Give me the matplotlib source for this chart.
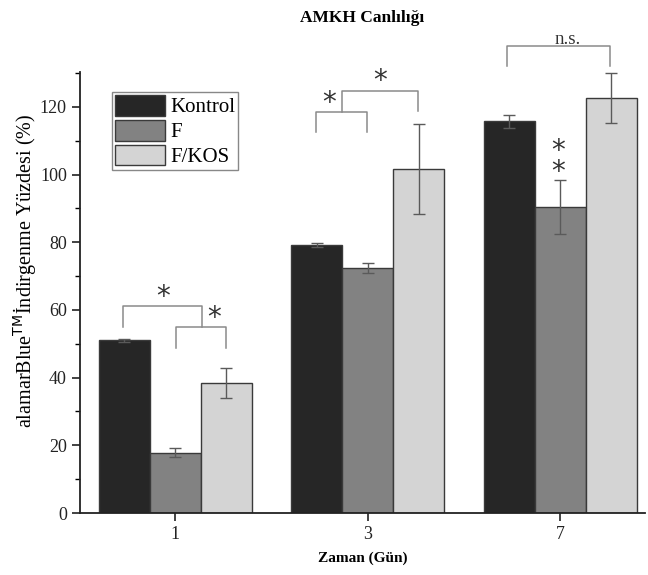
import matplotlib
matplotlib.use("Agg")
import matplotlib.pyplot as plt
import numpy as np
from matplotlib.ticker import MultipleLocator
from matplotlib.patches import Patch

days = ["1", "3", "7"]
groups = ["Kontrol", "F", "F/KOS"]
kontrol = [51.0, 79.2, 115.7]
kontrol_err = [0.5, 0.5, 2.0]
f_vals = [17.8, 72.3, 90.5]
f_err = [1.3, 1.5, 8.0]
fkos = [38.3, 101.7, 122.6]
fkos_err = [4.4, 13.3, 7.5]
colors = ["#262626", "#828282", "#d4d4d4"]

plt.rcParams['font.family'] = ['Liberation Serif', 'DejaVu Serif']

fig = plt.figure(figsize=(6.48, 5.75), dpi=100)
ax = fig.add_axes([80/648, 1-513/575, (645-80)/648, (513-72)/575])

x = np.arange(len(days))
w = 0.265
series = [(kontrol, kontrol_err), (f_vals, f_err), (fkos, fkos_err)]
for i, ((vals, errs), c, lab) in enumerate(zip(series, colors, groups)):
    ax.bar(x + (i-1)*w, vals, w, color=c, edgecolor="#3a3a3a", linewidth=1.0, label=lab, zorder=2)
    ax.errorbar(x + (i-1)*w, vals, yerr=errs, fmt='none', ecolor="#5a5a5a", elinewidth=1.0,
                capsize=4, capthick=1.0, zorder=3)

ax.set_xlim(-0.495, 2.44)
ax.set_ylim(0, 130.3)
ax.set_xticks(x)
ax.set_xticklabels(days)
ax.yaxis.set_major_locator(MultipleLocator(20))
ax.yaxis.set_minor_locator(MultipleLocator(10))
ax.tick_params(axis='both', which='major', direction='out', length=6, width=1.2, labelsize=13, colors='#222222')
ax.tick_params(axis='y', which='minor', direction='out', length=3.5, width=1.0)
for s in ['top', 'right']:
    ax.spines[s].set_visible(False)
for s in ['left', 'bottom']:
    ax.spines[s].set_linewidth(1.3)
    ax.spines[s].set_color('#222222')

ax.set_ylabel(r"alamarBlue$^{\mathrm{TM}}$İndirgenme Yüzdesi (%)", fontsize=14.5)
ax.yaxis.set_label_coords(-0.074, 0.55)
ax.set_xlabel("Zaman (Gün)", fontsize=11, fontweight='bold', labelpad=6)
fig.text(362/648, 1-18/575, "AMKH Canlılığı", ha='center', va='center', fontsize=12.5, fontweight='bold')

handles = [Patch(facecolor=c, edgecolor="#3a3a3a", label=l) for c, l in zip(colors, groups)]
leg = ax.legend(handles=handles, loc='upper left', bbox_to_anchor=(0.056, 0.955), fontsize=15,
                handlelength=2.4, handleheight=1.15, handletextpad=0.25, labelspacing=0.12,
                borderpad=0.15, borderaxespad=0, fancybox=False, framealpha=1, edgecolor='#888888')
leg.get_frame().set_linewidth(1.0)

# px -> data converters
def dx(px):
    return (px - 175) / 192.5
def dy(py):
    return (513 - py) / 3.385

bc = "#8a8a8a"
def bracket(x1, x2, ytop, yb1, yb2):
    ax.plot([dx(x1), dx(x1), dx(x2), dx(x2)], [dy(yb1), dy(ytop), dy(ytop), dy(yb2)],
            color=bc, lw=1.1, clip_on=False, zorder=4)

def star(px, py, text="*", size=20, ls=1.2):
    ax.text(dx(px), dy(py), text, ha='center', va='center', fontsize=size, linespacing=ls,
            family='DejaVu Sans', color='#333333', clip_on=False)

# group 1
bracket(123, 202, 306, 327, 327)
bracket(176, 226, 327, 348, 348)
star(163, 297)
star(214, 318)
# group 3
bracket(316, 367, 112, 132, 132)
bracket(342, 418, 91, 112, 111)
star(329, 103)
star(380, 81)
# group 7
bracket(507, 610, 46, 66, 66)
ax.text(dx(567), dy(39), "n.s.", ha='center', va='center', fontsize=13.5, color='#333333', clip_on=False)
star(558, 161, text="*\n*", size=20, ls=0.68)

fig.savefig("out.png", dpi=100)
